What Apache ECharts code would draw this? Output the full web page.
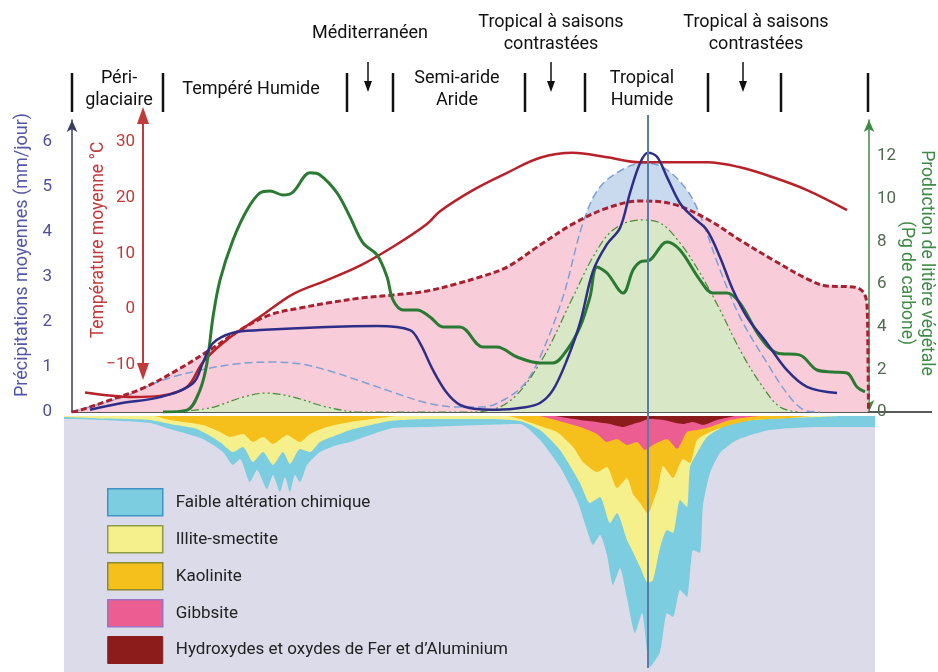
<!DOCTYPE html>
<html>
<head>
<meta charset="utf-8">
<script src="https://cdn.jsdelivr.net/npm/echarts@6.0.0/dist/echarts.min.js"></script>
<style>
body { margin: 0; background: #fff; }
#chart { width: 938px; height: 672px; }
</style>
</head>
<body>
<div id="chart"></div>
<script>
// transect position (0 = pôle, ~80 = bord droit), pairs are [position, value]
var precipitation = [[1.8,0.05],[5,0.2],[8.8,0.33],[12.1,0.64],[13.1,1.1],[14.1,1.53],[16.1,1.76],[18.8,1.82],[25.5,1.89],[30.5,1.91],[33.8,1.82],[34.8,1.53],[36.1,0.93],[37.5,0.42],[38.8,0.16],[40.8,0.06],[42.5,0.05],[45.1,0.1],[46.8,0.2],[48.1,0.49],[49.5,1.16],[50.8,1.98],[52.1,3.13],[53.5,3.73],[54.8,4.09],[55.8,4.87],[56.8,5.53],[57.6,5.76],[58.5,5.67],[59.5,5.22],[60.8,4.64],[62.1,4.33],[63.5,4.04],[64.8,3.44],[66.1,2.71],[67.5,2.11],[69.5,1.53],[71.5,0.93],[73.5,0.56],[76.5,0.42]];
var evapo = [[0,0],[2.8,0.18],[5.5,0.36],[7.1,0.53],[9.8,0.76],[12.8,0.93],[16.5,1.07],[20.1,1.11],[22.8,1.07],[25.5,0.93],[28.8,0.69],[32.1,0.44],[35.5,0.2],[38.8,0.11],[41.1,0.11],[43.5,0.31],[45.3,0.64],[46.8,1.22],[49.1,2.56],[51.1,4.2],[52.8,5.0],[55.5,5.44],[57.5,5.53],[59.5,5.38],[61.5,4.93],[62.8,4.38],[64.8,3.16],[66.8,2.11],[69.5,1.09],[71.8,0.33],[73.5,0.02],[74.8,0]];
var envelope = [[0,0],[0.8,0.04],[4,0.28],[7.1,0.53],[10.5,0.93],[13.8,1.38],[16.8,1.82],[19.8,2.16],[22.8,2.31],[25.5,2.42],[28.8,2.53],[32.1,2.6],[35.5,2.69],[38.3,2.84],[40.8,3.0],[43.5,3.22],[46.8,3.71],[50.1,4.18],[53.5,4.53],[56.8,4.69],[60.1,4.62],[63.5,4.29],[66.8,3.82],[70.1,3.38],[73.5,2.96],[75.5,2.8],[78.1,2.78],[79.1,2.67],[79.5,2.38],[79.6,1.16],[79.65,0]];
var temperature = [[1.3,-15.0],[6.1,-15.8],[8.8,-15.6],[11.5,-14.0],[13.1,-9.5],[15.5,-5.5],[18.8,-1.4],[22.1,2.7],[25.5,5.2],[28.8,7.8],[32.1,11.2],[35.5,15.3],[36.8,17.6],[40.1,21.4],[43.5,24.5],[46.8,27.2],[50.1,28.1],[53.5,27.3],[56.8,26.4],[60.1,26.4],[63.5,26.4],[66.8,25.5],[70.1,23.7],[73.5,21.4],[77.5,17.8]];
var litter = [[9.1,0],[11.5,0.09],[12.8,1.03],[13.5,2.3],[14.1,4.46],[14.8,6.19],[16.1,8.07],[17.5,9.48],[18.8,10.28],[19.8,10.37],[21.1,10.18],[22.1,10.32],[23.8,11.22],[24.8,11.12],[26.5,10.28],[27.8,9.15],[29.1,7.93],[30.5,7.37],[31.5,6.34],[32.1,5.26],[33.1,4.79],[34.5,4.79],[35.8,4.46],[37.1,3.99],[38.8,3.99],[41.1,3.05],[42.5,3.05],[44.5,2.58],[46.8,2.3],[48.1,2.3],[49.5,2.91],[50.8,3.99],[51.8,5.4],[52.5,6.8],[53.5,6.52],[55.1,5.58],[56.1,6.66],[56.8,7.04],[57.8,7.13],[59.5,7.98],[60.8,7.6],[62.8,6.19],[64.1,5.58],[65.5,5.58],[66.8,5.11],[68.8,3.52],[70.5,2.77],[72.8,2.67],[74.5,1.97],[76.1,1.88],[77.5,1.83],[78.5,1.17],[79.3,0.94]];
var litterPotential = [[9.8,0],[13.8,0.19],[17.1,0.7],[19.5,0.89],[22.1,0.7],[25.5,0.23],[28.8,0],[39.8,0],[43.5,0.42],[46.8,2.3],[50.1,5.4],[52.1,7.27],[54.1,8.54],[56.8,9.01],[58.8,8.87],[60.8,7.93],[62.8,6.52],[64.8,4.79],[66.8,2.91],[68.8,1.36],[70.8,0.23],[72.8,0]];

// profondeur d'altération (épaisseur relative) sous le transect
var faibleAlteration = [[-0.8,3],[2.8,4],[7.8,7],[9.8,13],[13.1,23],[15.1,36],[16.1,49],[16.8,43],[17.8,66],[18.5,54],[19.5,73],[20.1,59],[20.8,76],[21.3,61],[21.8,76],[22.3,59],[22.8,66],[23.5,49],[24.8,36],[26.5,29],[27.8,26],[32.1,12],[35.5,11],[40.8,9],[44.8,8],[46.8,24],[48.8,51],[50.5,84],[51.5,114],[52.1,129],[52.8,119],[53.5,139],[54.1,169],[54.8,152],[55.5,182],[56.3,217],[57.0,197],[57.8,251],[58.8,236],[59.5,197],[60.1,201],[60.8,174],[61.5,181],[62.1,134],[62.8,137],[63.1,89],[63.8,57],[64.8,37],[66.5,24],[69.8,14],[74.8,11],[80.3,11]];
var illiteSmectite = [[-0.8,1],[2.8,2.5],[7.8,4],[9.8,8],[12.5,13],[14.8,26],[16.1,36],[17.1,31],[18.1,46],[19.1,36],[20.1,49],[21.1,36],[21.8,48],[22.8,33],[23.8,36],[24.8,26],[26.5,19],[27.8,14],[31.8,5],[35.8,3],[40.8,3],[44.8,5],[46.8,14],[48.8,34],[50.8,67],[51.8,87],[52.8,81],[53.8,107],[54.5,97],[55.5,124],[56.1,136],[56.8,151],[57.6,167],[58.1,164],[58.8,132],[59.5,114],[60.1,117],[60.8,84],[61.5,91],[61.8,51],[62.5,37],[63.5,21],[65.5,9],[68.1,4],[71.5,2],[74.8,1],[76.8,0]];
var kaolinite = [[8.3,0],[9.8,4],[13.1,9],[14.8,16],[15.8,21],[17.1,18],[18.1,26],[19.1,21],[20.1,28],[21.5,19],[22.8,26],[23.8,18],[25.5,11],[27.8,6],[30.8,2],[32.5,0],[43.5,0],[44.8,3],[46.8,10],[48.5,16],[50.1,31],[51.1,46],[52.5,56],[53.5,51],[54.5,72],[55.5,62],[56.1,78],[56.8,87],[57.6,98],[58.1,86],[58.6,72],[59.1,50],[60.1,62],[61.1,43],[61.8,47],[62.5,24],[63.8,16],[65.8,9],[68.1,4],[71.8,2],[73.8,0]];
var gibbsite = [[46.8,0],[49.1,6],[50.8,11],[52.5,18],[53.5,26],[54.5,23],[55.5,29],[56.5,26],[57.3,34],[58.1,29],[59.5,23],[60.5,33],[61.5,16],[62.5,14],[63.8,11],[65.8,4],[67.8,1],[68.8,0]];
var oxydes = [[48.3,0],[50.8,4],[52.5,6],[53.8,8],[55.1,11],[55.8,9],[57.1,5],[57.6,3],[59.1,4],[61.1,8],[62.1,6],[63.1,9],[64.5,4],[66.3,0]];

// zones climatiques (position sur le transect)
var zoneBounds = [0, 9.1, 27.5, 32.1, 45.3, 51.3, 63.6, 70.9, 79.6];
var zoneNames = ['Péri-\nglaciaire', 'Tempéré Humide', 'Semi-aride\nAride', 'Tropical\nHumide'];
var zoneCenters = [4.7, 17.9, 38.5, 57.0];
var transitionNames = ['Méditerranéen', 'Tropical à saisons\ncontrastées', 'Tropical à saisons\ncontrastées'];
var transitionCenters = [29.8, 47.9, 68.4];
var transitionArrows = [29.6, 47.9, 67.1];
var equator = 57.6;

var tempLabels = [-10, 0, 10, 20, 30];
var mineralNames = ['Faible altération chimique', 'Illite-smectite', 'Kaolinite', 'Gibbsite', 'Hydroxydes et oxydes de Fer et d’Aluminium'];

var FONT = 'Roboto, "Liberation Sans", sans-serif';

function fill(name, data, yAxis, color) {
    return {
        name: name, type: 'line', xAxisIndex: 0, yAxisIndex: yAxis,
        data: data, smooth: 0.35, symbol: 'none',
        lineStyle: {width: 0, opacity: 0},
        areaStyle: {color: color, opacity: 1},
        silent: true, z: 1
    };
}
function curve(name, data, yAxis, color, width, type) {
    return {
        name: name, type: 'line', xAxisIndex: 0, yAxisIndex: yAxis,
        data: data, smooth: 0.35, symbol: 'none',
        lineStyle: {color: color, width: width, type: type},
        z: 3
    };
}
function layer(name, data, color) {
    return {
        name: name, type: 'line', xAxisIndex: 1, yAxisIndex: 3,
        data: data, smooth: 0.2, symbol: 'none', color: color,
        lineStyle: {width: 0, opacity: 0},
        areaStyle: {color: color, opacity: 1}
    };
}

var option = {
    animation: false,
    backgroundColor: '#fff',
    grid: [
        {left: 72, right: 69, top: 120, height: 292},
        {left: 64, right: 63, top: 416, bottom: 0, show: true, backgroundColor: '#dcdbe9', borderWidth: 0}
    ],
    xAxis: [
        {type: 'value', gridIndex: 0, min: 0, max: 79.7, axisLabel: {show: false}, axisTick: {show: false},
         splitLine: {show: false}, axisLine: {lineStyle: {color: '#222', width: 1.5}}},
        {type: 'value', gridIndex: 1, min: -0.8, max: 80.3, show: false}
    ],
    yAxis: [
        {type: 'value', gridIndex: 0, min: 0, max: 6.489, interval: 1, position: 'left',
         splitLine: {show: false}, axisTick: {show: false},
         axisLine: {show: true, symbol: ['none', 'arrow'], symbolSize: [8, 12], lineStyle: {color: '#3b3b5c', width: 1.5}},
         axisLabel: {color: '#4f4f9e', fontSize: 17, fontFamily: FONT, margin: 20, showMaxLabel: false}},
        {type: 'value', gridIndex: 0, min: -18.5, max: 34, position: 'left', offset: -71,
         splitLine: {show: false}, axisTick: {show: false}, axisLine: {show: false},
         axisLabel: {color: '#c0393b', fontSize: 17, fontFamily: FONT, margin: 8, customValues: tempLabels,
                     formatter: function (v) { return String(v).replace('-', '−'); }}},
        {type: 'value', gridIndex: 0, min: 0, max: 13.7, interval: 2, position: 'right',
         splitLine: {show: false}, axisTick: {show: false},
         axisLine: {show: true, symbol: ['arrow', 'arrow'], symbolSize: [8, 12], lineStyle: {color: '#3c8a44', width: 1.5}},
         axisLabel: {color: '#52684f', fontSize: 17, fontFamily: FONT, margin: 8, showMaxLabel: false}},
        {type: 'value', gridIndex: 1, min: 0, max: 256, inverse: true, show: false}
    ],
    legend: {
        orient: 'vertical', left: 107, top: 488, height: 180, padding: 0,
        itemWidth: 55, itemHeight: 27, itemGap: 8.5,
        icon: 'rect', selectedMode: false,
        textStyle: {fontSize: 17, fontFamily: FONT, color: '#222', padding: [0, 0, 0, 8]},
        data: [
            {name: mineralNames[0], itemStyle: {borderColor: '#3f93c8', borderWidth: 1.5}},
            {name: mineralNames[1], itemStyle: {borderColor: '#8c9c46', borderWidth: 1.5}},
            {name: mineralNames[2], itemStyle: {borderColor: '#8b8a2e', borderWidth: 1.5}},
            {name: mineralNames[3], itemStyle: {borderColor: '#9b72c4', borderWidth: 1.5}},
            {name: mineralNames[4], itemStyle: {borderColor: '#8c1c1c', borderWidth: 1}}
        ]
    },
    series: [
        fill('zone ETP', evapo, 0, '#c9daef'),
        fill('zone enveloppe', envelope, 0, '#f8cdd9'),
        fill('zone litière', litterPotential, 2, '#d8e7c6'),
        curve('ETP', evapo, 0, '#7f9fd4', 1.5, [8, 4]),
        curve('enveloppe', envelope, 0, '#a82131', 3, [6, 3]),
        curve('litière potentielle', litterPotential, 2, '#4a8a3a', 1.2, [8, 3, 2, 3, 2, 3]),
        curve('Température', temperature, 1, '#b8202a', 2.5, 'solid'),
        curve('Litière', litter, 2, '#2a7a34', 3, 'solid'),
        curve('Précipitations', precipitation, 0, '#2e2e88', 2.5, 'solid'),
        layer(mineralNames[0], faibleAlteration, '#7ccde0'),
        layer(mineralNames[1], illiteSmectite, '#f6f08c'),
        layer(mineralNames[2], kaolinite, '#f6c01c'),
        layer(mineralNames[3], gibbsite, '#ec5e92'),
        layer(mineralNames[4], oxydes, '#8c1c1c')
    ]
};

var chart = echarts.init(document.getElementById('chart'));
chart.setOption(option);

function px(u) { return chart.convertToPixel({xAxisIndex: 0}, u); }
function label(text, x, y, size, color, rot) {
    return {type: 'text', rotation: rot || 0, x: x, y: y,
        style: {text: text, fontSize: size, fontFamily: FONT, fill: color, align: 'center',
                verticalAlign: 'middle', lineHeight: 22}};
}

var g = [];
zoneBounds.forEach(function (u) {
    var x = px(u);
    g.push({type: 'line', shape: {x1: x, y1: 73, x2: x, y2: 112}, style: {stroke: '#111', lineWidth: 2.5}});
});
transitionArrows.forEach(function (u) {
    var x = px(u);
    g.push({type: 'line', shape: {x1: x, y1: 62, x2: x, y2: 84}, style: {stroke: '#111', lineWidth: 1.5}});
    g.push({type: 'polygon', shape: {points: [[x - 4, 81], [x + 4, 81], [x, 92]]}, style: {fill: '#111'}});
});
zoneNames.forEach(function (t, i) { g.push(label(t, px(zoneCenters[i]), 89, 18, '#111')); });
transitionNames.forEach(function (t, i) { g.push(label(t, px(transitionCenters[i]), 33, 18, '#111')); });

// flèche double de l'axe des températures
var ax = 143;
g.push({type: 'line', shape: {x1: ax, y1: 118, x2: ax, y2: 370}, style: {stroke: '#c0393b', lineWidth: 2}});
g.push({type: 'polygon', shape: {points: [[ax, 107], [ax - 6, 124], [ax + 6, 124]]}, style: {fill: '#c0393b'}});
g.push({type: 'polygon', shape: {points: [[ax, 380], [ax - 6, 363], [ax + 6, 363]]}, style: {fill: '#c0393b'}});

// titres des axes
g.push(label('Précipitations moyennes (mm/jour)', 22, 255, 18, '#5656a8', Math.PI / 2));
g.push(label('Température moyenne °C', 99, 240, 17.5, '#c0393b', Math.PI / 2));
g.push(label('Production de litière végétale', 926, 263, 17.5, '#3f8a45', -Math.PI / 2));
g.push(label('(Pg de carbone)', 906, 283, 17.5, '#3f8a45', -Math.PI / 2));

// prolongement de la ligne de base et équateur
g.push({type: 'line', shape: {x1: 869, y1: 412, x2: 932, y2: 412}, style: {stroke: '#222', lineWidth: 1.5}});
var eq = px(equator);
g.push({type: 'line', z: 100, shape: {x1: eq, y1: 115, x2: eq, y2: 668}, style: {stroke: '#5b7ca8', lineWidth: 2}});

chart.setOption({graphic: g});
</script>
</body>
</html>
